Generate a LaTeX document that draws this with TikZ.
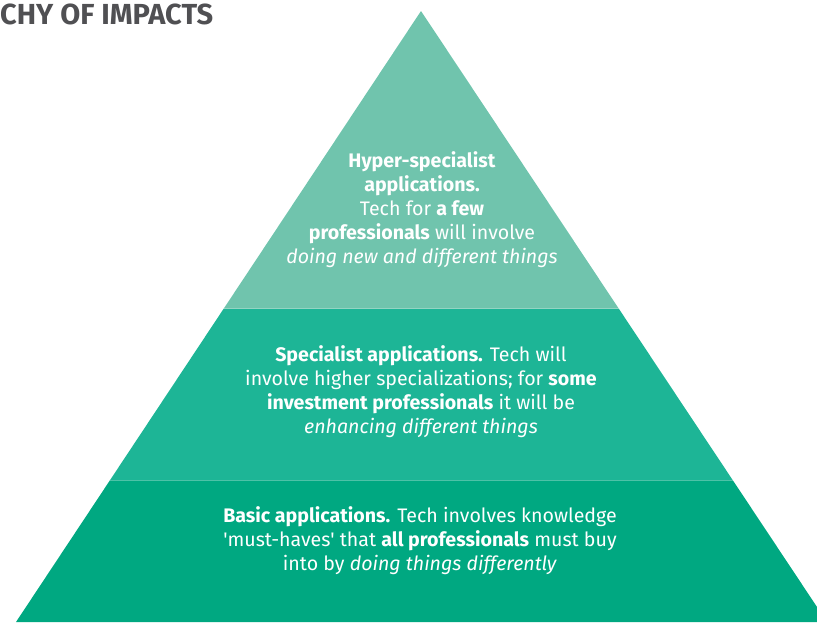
\documentclass[tikz,border=0pt]{standalone}
\usepackage{fontspec}
\setmainfont{Fira Sans}
\usetikzlibrary{calc}
\definecolor{tiertop}{HTML}{70C4AD}
\definecolor{tiermid}{HTML}{1DB596}
\definecolor{tierbase}{HTML}{00A881}
\definecolor{titlegrey}{HTML}{505053}
\tikzset{
	tiertext/.style={text=white, align=center, font=\fontsize{19.6}{24}\selectfont},
	tierline/.style={white, opacity=0.3, line width=1pt},
	titletext/.style={text=titlegrey, anchor=west, inner sep=0pt, font=\fontsize{29}{32}\selectfont\bfseries}
}
\begin{document}
\begin{tikzpicture}[x=1pt, y=-1pt]
		%%%%% START %%%%%
		
		\useasboundingbox (0, 0) rectangle (817, 622);
		\clip (0, 0) rectangle (817, 622);
		
		\coordinate (apex) at (421, 11);
		\coordinate (bl) at (16, 622);
		\coordinate (br) at (827, 622);
		\coordinate (ml) at ($(apex)!0.4877!(bl)$);
		\coordinate (mr) at ($(apex)!0.4877!(br)$);
		\coordinate (ll) at ($(apex)!0.7676!(bl)$);
		\coordinate (lr) at ($(apex)!0.7676!(br)$);
		
		\fill[tiertop] (apex) -- (ml) -- (mr) -- cycle;
		\fill[tiermid] (ml) -- (ll) -- (lr) -- (mr) -- cycle;
		\fill[tierbase] (ll) -- (bl) -- (br) -- (lr) -- cycle;
		\draw[tierline] (ml) -- (mr);
		\draw[tierline] (ll) -- (lr);
		
		\node[titletext] (title) at (0, 14) {CHY OF IMPACTS};
		
		\node[tiertext] (hyper) at (422, 210) {\textbf{Hyper-specialist}\\\textbf{applications.}\\Tech for \textbf{a few}\\\textbf{professionals} will involve\\\textit{doing new and different things}};
		
		\node[tiertext] (special) at (421, 392) {\textbf{Specialist applications.} Tech will\\involve higher specializations; for \textbf{some}\\\textbf{investment professionals} it will be\\\textit{enhancing different things}};
		
		\node[tiertext] (basic) at (420, 541) {\textbf{Basic applications.} Tech involves knowledge\\\textquotesingle must-haves\textquotesingle{} that \textbf{all professionals} must buy\\into by \textit{doing things differently}};
		
		%%%%% END %%%%%
\end{tikzpicture}
\end{document}
